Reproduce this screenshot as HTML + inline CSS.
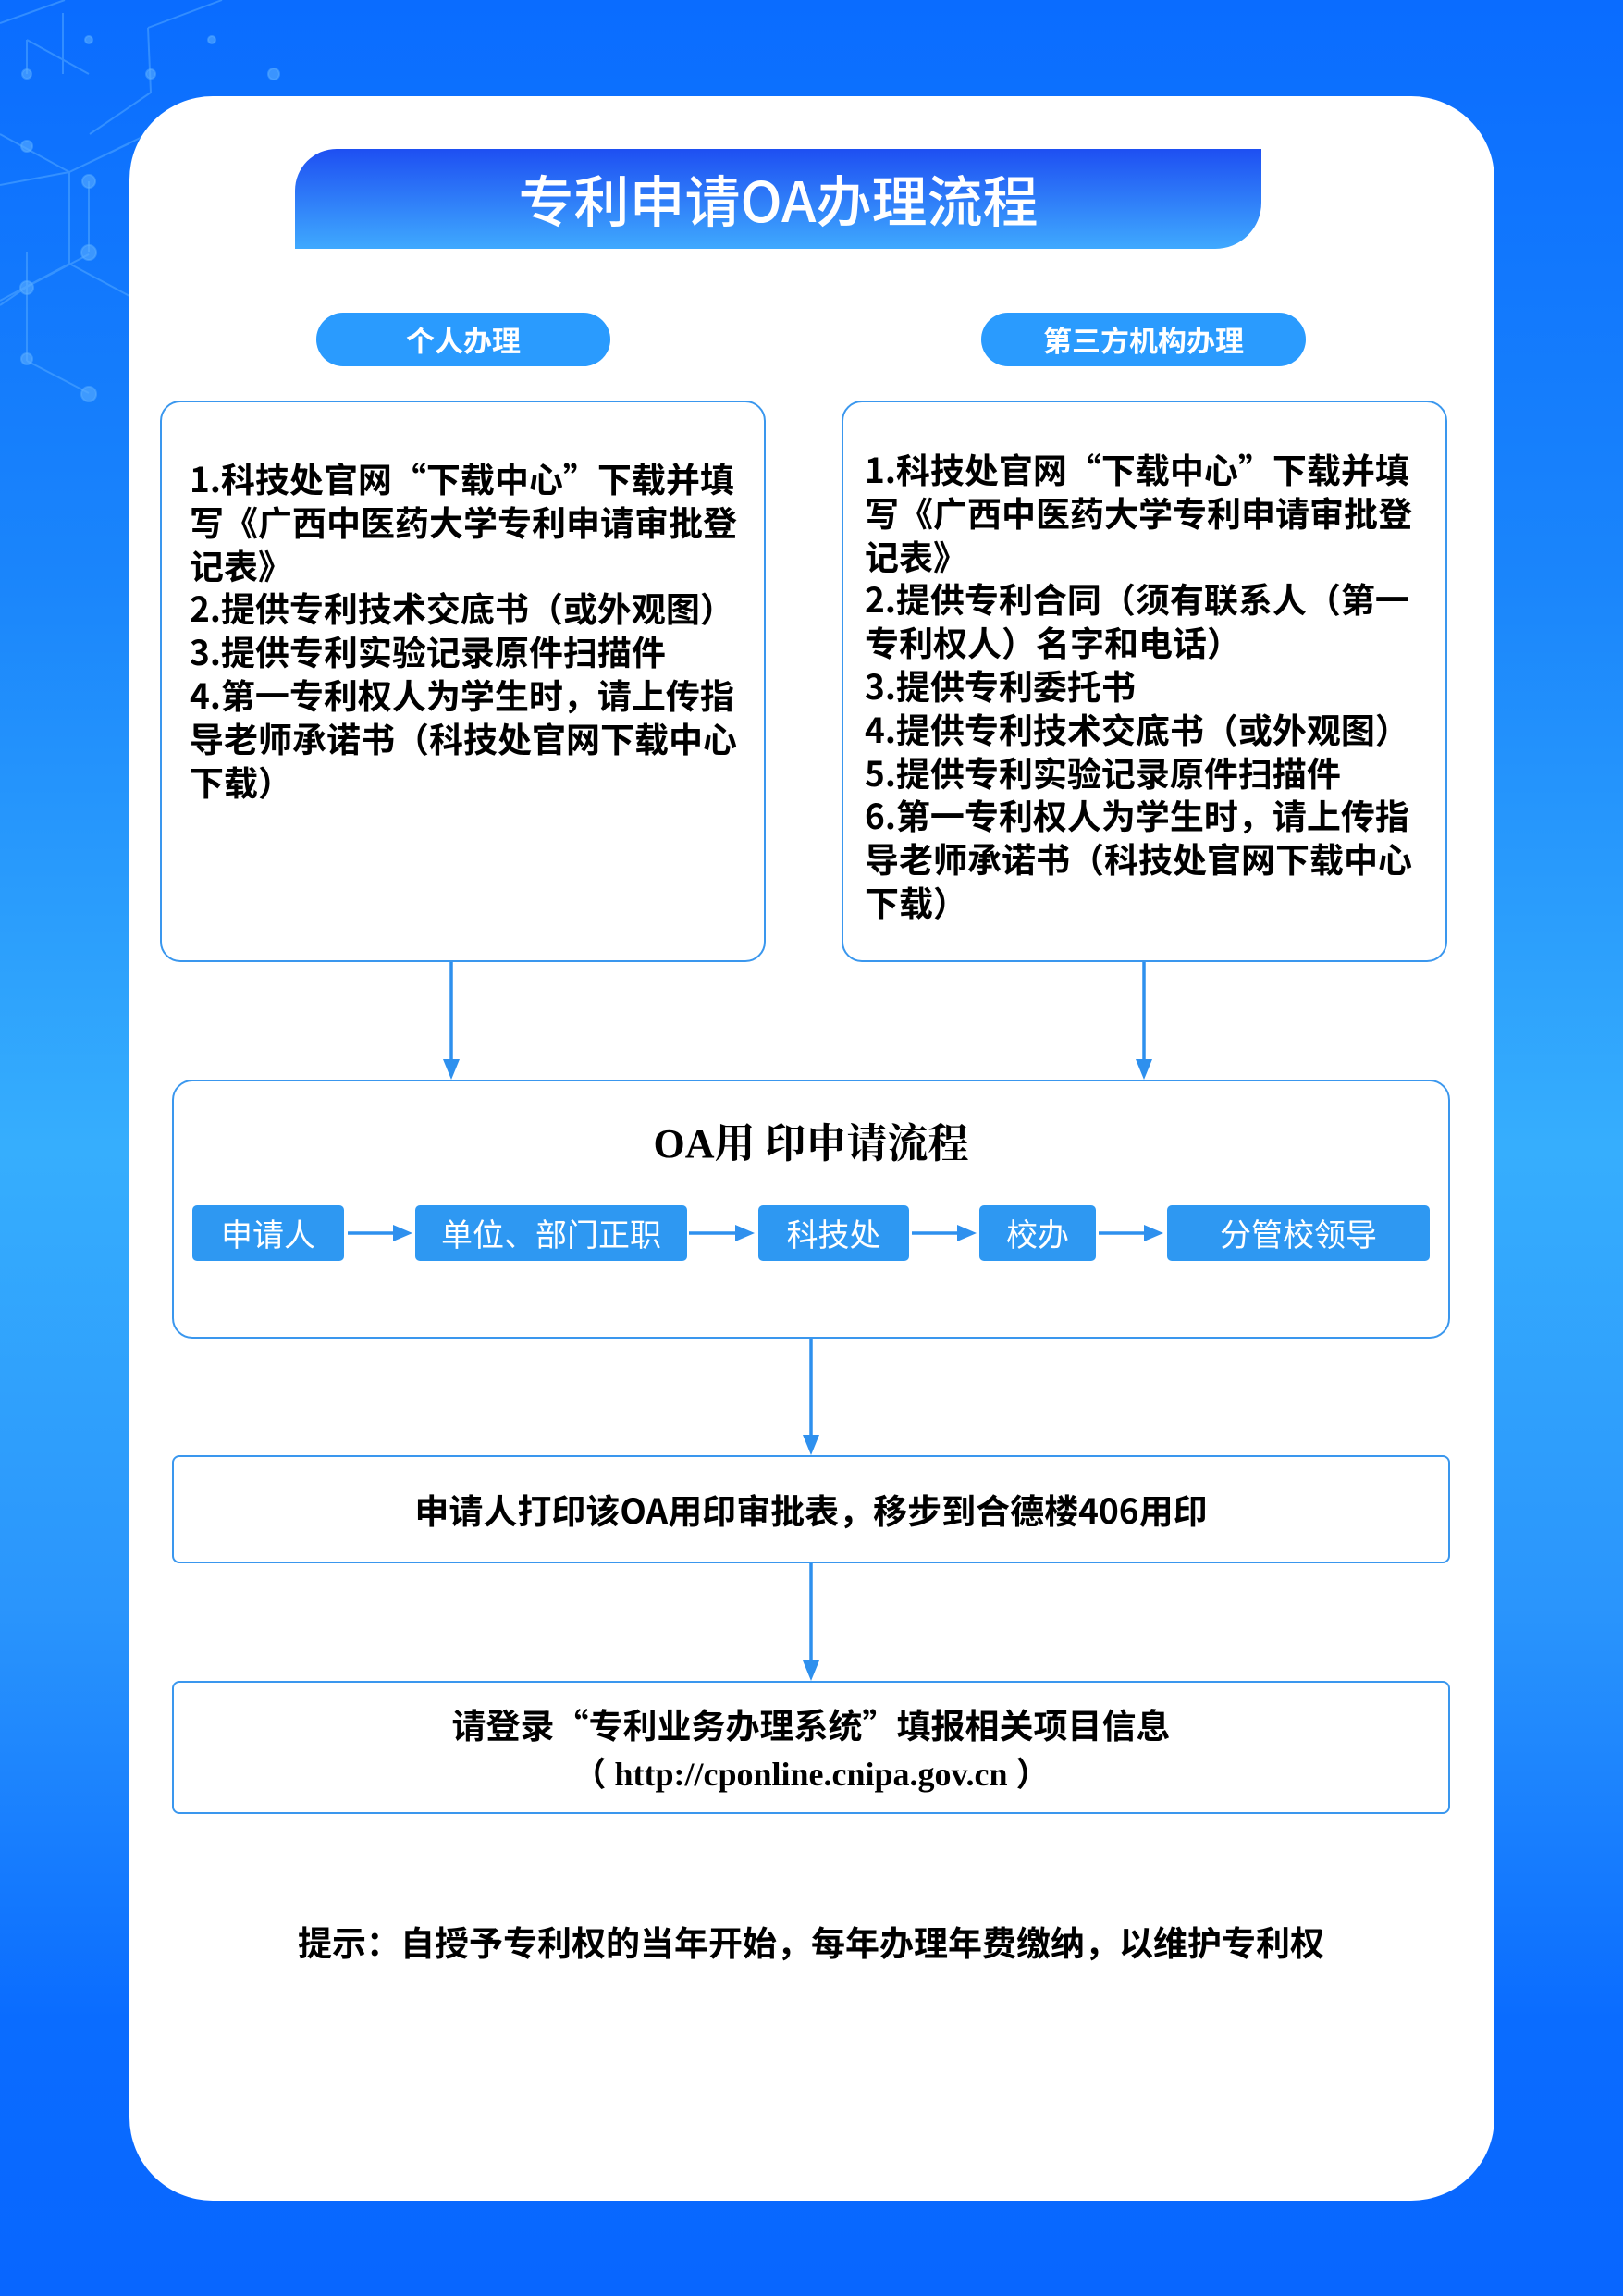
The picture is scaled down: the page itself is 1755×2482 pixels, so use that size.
<!DOCTYPE html>
<html><head><meta charset="utf-8"><style>
*{margin:0;padding:0;box-sizing:border-box}
body{width:1755px;height:2482px;position:relative;overflow:hidden;font-family:"Noto Sans CJK SC","Liberation Sans",sans-serif;
background:linear-gradient(180deg,#0a6cff 0%,#1a85fb 25%,#36aefd 50%,#2a95fc 70%,#0a6cff 88%,#0866ff 100%)}
.abs{position:absolute}
.card{left:140px;top:104px;width:1476px;height:2275px;background:#fff;border-radius:90px}
.banner{left:319px;top:161px;width:1045px;height:108px;background:linear-gradient(180deg,#1e4ff2,#3fa9fe);border-radius:45px 0 50px 0;color:#fff;font-size:60px;text-align:center;line-height:108px;font-weight:500}
.pill{top:338px;height:58px;background:#2a9bfe;border-radius:29px;color:#fff;font-size:31px;font-weight:bold;text-align:center;line-height:58px}
.box{border:2.5px solid #3a97ee;border-radius:22px;background:#fff}
.txt{font-size:37px;font-weight:bold;line-height:46.8px;color:#000;white-space:nowrap}
.step{top:1303px;height:60px;background:#2e98f2;color:#fff;font-size:34px;text-align:center;line-height:60px;border-radius:5px}
.c{text-align:center;font-weight:bold;color:#000;white-space:nowrap}
</style></head><body>
<svg class="abs" style="left:0;top:0" width="420" height="1000" stroke="#5aaeff" fill="#5aaeff" stroke-opacity=".5" fill-opacity=".6" stroke-width="2">
<path d="M0 25 L70 0 M160 30 L240 0 M160 30 L163 100 M68 14 L68 80 M0 145 L75 186 L160 145 M163 100 L97 145 M96 80 L29 43 M29 43 L29 80 M0 200 L75 186 L75 285 L0 325 M75 285 L140 320 M75 186 L140 155 M96 196 L96 272 M29 272 L29 390 M0 330 L29 310 L96 275 M29 390 L96 425" fill="none"/>
<circle cx="29" cy="80" r="5"/><circle cx="96" cy="43" r="4"/><circle cx="163" cy="80" r="5"/><circle cx="229" cy="43" r="4"/><circle cx="296" cy="80" r="6"/><circle cx="29" cy="158" r="6"/><circle cx="96" cy="196" r="7"/><circle cx="96" cy="273" r="8"/><circle cx="29" cy="311" r="7"/><circle cx="29" cy="388" r="6"/><circle cx="96" cy="426" r="8"/>
</svg>
<div class="abs card"></div>
<div class="abs banner">专利申请OA办理流程</div>
<div class="abs pill" style="left:342px;width:318px">个人办理</div>
<div class="abs pill" style="left:1061px;width:351px">第三方机构办理</div>
<div class="abs box" style="left:173px;top:433px;width:655px;height:607px"></div>
<div class="abs box" style="left:910px;top:433px;width:655px;height:607px"></div>
<div class="abs txt" style="left:205px;top:493px">1.科技处官网“下载中心”下载并填<br>写《广西中医药大学专利申请审批登<br>记表》<br>2.提供专利技术交底书（或外观图）<br>3.提供专利实验记录原件扫描件<br>4.第一专利权人为学生时，请上传指<br>导老师承诺书（科技处官网下载中心<br>下载）</div>
<div class="abs txt" style="left:935px;top:483px">1.科技处官网“下载中心”下载并填<br>写《广西中医药大学专利申请审批登<br>记表》<br>2.提供专利合同（须有联系人（第一<br>专利权人）名字和电话）<br>3.提供专利委托书<br>4.提供专利技术交底书（或外观图）<br>5.提供专利实验记录原件扫描件<br>6.第一专利权人为学生时，请上传指<br>导老师承诺书（科技处官网下载中心<br>下载）</div>
<div class="abs box" style="left:186px;top:1167px;width:1382px;height:280px"></div>
<div class="abs c" style="left:186px;width:1382px;top:1210px;font-size:44px;line-height:54px;font-family:'Liberation Serif','Noto Serif CJK SC',serif">OA用 印申请流程</div>
<div class="abs step" style="left:208px;width:164px">申请人</div>
<div class="abs step" style="left:449px;width:294px">单位、部门正职</div>
<div class="abs step" style="left:820px;width:163px">科技处</div>
<div class="abs step" style="left:1059px;width:126px">校办</div>
<div class="abs step" style="left:1262px;width:284px">分管校领导</div>
<div class="abs box" style="left:186px;top:1573px;width:1382px;height:117px;border-radius:8px"></div>
<div class="abs c" style="left:186px;width:1382px;top:1608px;font-size:37px;line-height:46px">申请人打印该OA用印审批表，移步到合德楼406用印</div>
<div class="abs box" style="left:186px;top:1817px;width:1382px;height:144px;border-radius:8px"></div>
<div class="abs c" style="left:186px;width:1382px;top:1840px;font-size:37px;line-height:46px">请登录“专利业务办理系统”填报相关项目信息</div>
<div class="abs c" style="left:186px;width:1382px;top:1897px;font-size:36px;line-height:42px;font-family:'Liberation Serif','Noto Sans CJK SC',serif">（ http://cponline.cnipa.gov.cn ）</div>
<div class="abs c" style="left:186px;width:1382px;top:2075px;font-size:37px;line-height:46px">提示：自授予专利权的当年开始，每年办理年费缴纳，以维护专利权</div>
<svg class="abs" style="left:0;top:0" width="1755" height="2482" stroke="#2e90ee" fill="#2e90ee" stroke-width="3.5">
<line x1="488" y1="1040" x2="488" y2="1150"/><path d="M479 1145 L497 1145 L488 1167Z" stroke="none"/>
<line x1="1237" y1="1040" x2="1237" y2="1150"/><path d="M1228 1145 L1246 1145 L1237 1167Z" stroke="none"/>
<line x1="877" y1="1447" x2="877" y2="1556"/><path d="M868 1551 L886 1551 L877 1573Z" stroke="none"/>
<line x1="877" y1="1690" x2="877" y2="1800"/><path d="M868 1795 L886 1795 L877 1817Z" stroke="none"/>
<line x1="376" y1="1333" x2="430" y2="1333"/><path d="M425 1324 L425 1342 L446 1333Z" stroke="none"/>
<line x1="745" y1="1333" x2="800" y2="1333"/><path d="M795 1324 L795 1342 L816 1333Z" stroke="none"/>
<line x1="986" y1="1333" x2="1040" y2="1333"/><path d="M1035 1324 L1035 1342 L1056 1333Z" stroke="none"/>
<line x1="1188" y1="1333" x2="1242" y2="1333"/><path d="M1237 1324 L1237 1342 L1258 1333Z" stroke="none"/>
</svg>
</body></html>
